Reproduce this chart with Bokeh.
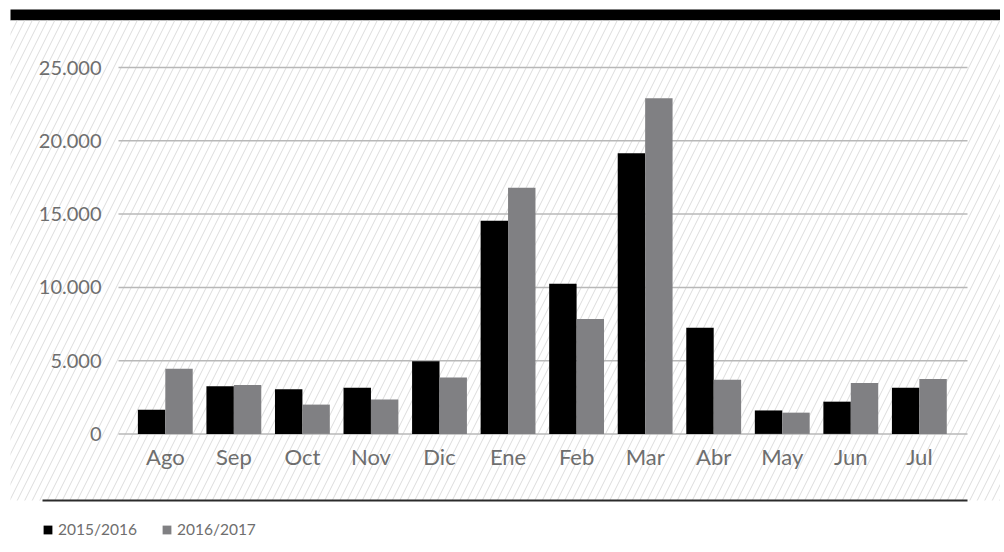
from bokeh.plotting import figure
from bokeh.models import Range1d, Legend, LegendItem
from bokeh.core.properties import value
from bokeh.embed import file_html
from bokeh.resources import INLINE

months = ["Ago", "Sep", "Oct", "Nov", "Dic", "Ene", "Feb", "Mar", "Abr", "May", "Jun", "Jul"]
s2015 = [1650, 3250, 3050, 3150, 4950, 14550, 10250, 19150, 7250, 1600, 2200, 3150]
s2016 = [4450, 3330, 2000, 2350, 3850, 16800, 7850, 22900, 3700, 1450, 3480, 3750]
series_names = ["2015/2016", "2016/2017"]
y_ticks = [0, 5000, 10000, 15000, 20000, 25000]
y_tick_labels = ["0", "5.000", "10.000", "15.000", "20.000", "25.000"]

W, H = 1000, 548
# page-pixel layout constants
OFF = 0
X0, DX = 164.8, 68.55          # page x of first category centre, spacing
Y0, PY = 433.4, 366.3 / 25000  # page y of zero, pixels per unit

def dx(px):
    return (px - X0) / DX

def dy(py):
    return (Y0 - py) / PY

FONT = "Lato"
TXT = "#6e6e6e"

p = figure(width=W, height=H, output_backend="svg", toolbar_location=None,
           x_axis_location=None, y_axis_location=None,
           x_range=Range1d(dx(OFF), dx(OFF + W)), y_range=Range1d(dy(OFF + H), dy(OFF)),
           min_border=0, min_border_left=0, min_border_right=0,
           min_border_top=0, min_border_bottom=0)
p.outline_line_color = None
p.background_fill_color = "white"
p.border_fill_color = "white"
p.grid.visible = False

# top black band
p.quad(left=[dx(10)], right=[dx(OFF + W)], top=[dy(9)], bottom=[dy(20)],
       fill_color="black", line_color=None)
# hatched panel
p.quad(left=[dx(10)], right=[dx(OFF + W)], top=[dy(20)], bottom=[dy(500)],
       fill_color="white", line_color=None, hatch_pattern="/",
       hatch_color="#dcdcdc", hatch_scale=15, hatch_weight=1)

# grid lines
p.segment(x0=[dx(118)] * len(y_ticks), x1=[dx(967)] * len(y_ticks),
          y0=y_ticks, y1=y_ticks, line_color="#b8b8b8", line_width=1.5)

# bars
xs = list(range(len(months)))
r1 = p.vbar(x=[i - 0.2 for i in xs], top=s2015, width=0.4, bottom=0,
            fill_color="black", line_color=None)
r2 = p.vbar(x=[i + 0.2 for i in xs], top=s2016, width=0.4, bottom=0,
            fill_color="#808083", line_color=None)

# y tick labels
p.text(x=[dx(101)] * len(y_ticks), y=y_ticks, text=y_tick_labels,
       text_align="right", text_baseline="middle", text_font=value(FONT),
       text_font_size="20px", text_color=TXT)

# x category labels
p.text(x=xs, y=[dy(456)] * len(xs), text=months, text_align="center",
       text_baseline="middle", text_font=value(FONT), text_font_size="22px",
       text_color=TXT)

# bottom rule
p.segment(x0=[dx(42)], x1=[dx(967)], y0=[dy(500)], y1=[dy(500)],
          line_color="#2b2b2b", line_width=2)

legend = Legend(items=[LegendItem(label=series_names[0], renderers=[r1]),
                       LegendItem(label=series_names[1], renderers=[r2])],
                orientation="horizontal", location=(42 - OFF, OFF + H - 539),
                glyph_width=11, glyph_height=11, label_standoff=5, spacing=24,
                padding=0, margin=0, border_line_color=None,
                background_fill_alpha=0, label_text_font=FONT,
                label_text_font_size="15.5px", label_text_color=TXT,
                label_height=20)
p.add_layout(legend)

open("out.html", "w").write(file_html(p, INLINE))
